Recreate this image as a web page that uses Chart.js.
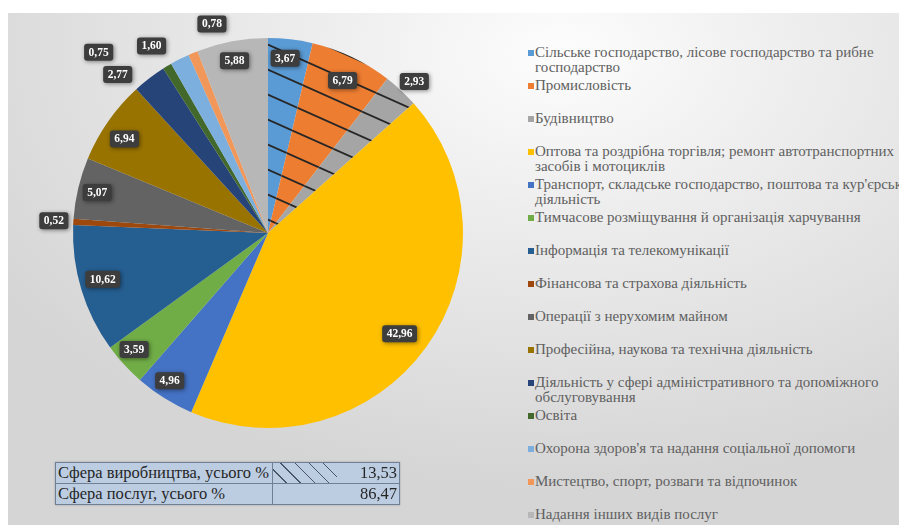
<!DOCTYPE html>
<html><head><meta charset="utf-8">
<script src="https://cdn.jsdelivr.net/npm/chart.js@4.4.0/dist/chart.umd.min.js"></script>
<style>
html,body{margin:0;padding:0;width:899px;height:525px;overflow:hidden;background:#fff;}
#panel{position:absolute;left:8px;top:13px;width:891px;height:512px;
 background:radial-gradient(ellipse 75% 85% at 62% 8%, #fdfdfd 0%, #eeeeee 35%, #d5d5d5 100%);}
#wrap{position:absolute;left:0;top:0;width:520px;height:460px;}
#legend{position:absolute;left:527px;top:0;width:390px;height:525px;font-family:"Liberation Serif","Times New Roman",serif;font-size:15px;color:#606060;}
.li{position:absolute;left:0;width:378px;line-height:15px;padding-left:8px;}
.mk{position:absolute;left:1px;top:5px;width:6px;height:6px;}
#tbl{position:absolute;left:55px;top:462px;border-collapse:collapse;font-family:"Liberation Serif","Times New Roman",serif;font-size:16.5px;color:#262626;box-shadow:0 0 2px rgba(0,0,0,0.25);}
#tbl td{border:1px solid #6f7f95;background:#bccde2;height:20px;padding:0 2px;line-height:20px;white-space:nowrap;}
#tbl td.lab{width:212px;}
#tbl td.val{width:122px;text-align:right;position:relative;}
.hatch{position:absolute;left:0;top:0;width:64px;height:100%;
 background:repeating-linear-gradient(45deg, transparent 0px, transparent 9px, #4a5566 9px, #4a5566 10px);}
.vt{position:relative;}
</style></head>
<body>
<div id="panel"></div>
<div id="wrap"><canvas id="c"></canvas></div>
<div id="legend"></div>
<table id="tbl"></table>
<script>
const categories = [
 "Сільське господарство, лісове господарство та рибне господарство",
 "Промисловість",
 "Будівництво",
 "Оптова та роздрібна торгівля; ремонт автотранспортних засобів і мотоциклів",
 "Транспорт, складське господарство, поштова та кур'єрська діяльність",
 "Тимчасове розміщування й організація харчування",
 "Інформація та телекомунікації",
 "Фінансова та страхова діяльність",
 "Операції з нерухомим майном",
 "Професійна, наукова та технічна діяльність",
 "Діяльність у сфері адміністративного та допоміжного обслуговування",
 "Освіта",
 "Охорона здоров'я та надання соціальної допомоги",
 "Мистецтво, спорт, розваги та відпочинок",
 "Надання інших видів послуг"
];
const shares = [3.67, 6.79, 2.93, 42.96, 4.96, 3.59, 10.62, 0.52, 5.07, 6.94, 2.77, 0.75, 1.60, 0.78, 5.88];
const productionCount = 3;
const tableRows = ["Сфера виробництва, усього %", "Сфера послуг, усього %"];
const tableValues = [13.53, 86.47];

const colors = ['#5B9BD5','#ED7D31','#A5A5A5','#FFC000','#4472C4','#70AD47','#255E91','#9E480E','#636363','#997300','#264478','#43682B','#7CAFDD','#F1975A','#B7B7B7'];
// label placement: [radius factor, angle offset in degrees]
const labelPlacement = [[0.9,-1],[0.87,0.6],[1.08,1],[0.85,1.7],[0.91,1.5],[0.91,1.4],[0.88,1.2],[1.1,0],[0.9,0],[0.88,-1.8],[1.12,-6],[1.27,-12],[1.13,-5],[1.11,7.6],[0.9,-0.4]];

const fmt = v => v.toFixed(2).replace('.', ',');

function hatchPattern(color){
  const w=56,h=25;
  const t=document.createElement('canvas'); t.width=w; t.height=h;
  const g=t.getContext('2d');
  g.fillStyle=color; g.fillRect(0,0,w,h);
  g.strokeStyle='#262626'; g.lineWidth=1.8;
  for(let k=-1;k<=1;k++){
    g.beginPath(); g.moveTo(k*w-w,-h); g.lineTo(k*w+2*w,2*h); g.stroke();
  }
  return document.getElementById('c').getContext('2d').createPattern(t,'repeat');
}
const fills = colors.map((c,i)=> i<productionCount ? hatchPattern(c) : c);

function roundRect(ctx,x,y,w,h,r){
  ctx.beginPath();
  ctx.moveTo(x+r,y); ctx.lineTo(x+w-r,y); ctx.quadraticCurveTo(x+w,y,x+w,y+r);
  ctx.lineTo(x+w,y+h-r); ctx.quadraticCurveTo(x+w,y+h,x+w-r,y+h);
  ctx.lineTo(x+r,y+h); ctx.quadraticCurveTo(x,y+h,x,y+h-r);
  ctx.lineTo(x,y+r); ctx.quadraticCurveTo(x,y,x+r,y); ctx.closePath();
}

const valueBoxes = {
  id:'valueBoxes',
  afterDatasetsDraw(chart){
    const ctx=chart.ctx; const meta=chart.getDatasetMeta(0);
    ctx.save();
    ctx.font='bold 11.5px "Liberation Serif", "Times New Roman", serif';
    ctx.textAlign='center'; ctx.textBaseline='middle';
    meta.data.forEach((arc,i)=>{
      const p=arc.getProps(['x','y','startAngle','endAngle','outerRadius'],true);
      const [f,off]=labelPlacement[i];
      const a=(p.startAngle+p.endAngle)/2+off*Math.PI/180;
      const x=p.x+Math.cos(a)*p.outerRadius*f, y=p.y+Math.sin(a)*p.outerRadius*f;
      const txt=fmt(chart.data.datasets[0].data[i]);
      const w=ctx.measureText(txt).width+9, h=17;
      ctx.shadowColor='rgba(0,0,0,0.45)'; ctx.shadowBlur=4; ctx.shadowOffsetX=1; ctx.shadowOffsetY=1;
      ctx.fillStyle='#3d3d3d';
      roundRect(ctx,x-w/2,y-h/2,w,h,3); ctx.fill();
      ctx.shadowColor='transparent';
      ctx.fillStyle='#ffffff';
      ctx.fillText(txt,x,y+0.5);
    });
    ctx.restore();
  }
};

new Chart(document.getElementById('c'),{
  type:'pie',
  data:{labels:categories,datasets:[{data:shares,backgroundColor:fills,borderWidth:0}]},
  options:{
    responsive:true, maintainAspectRatio:false, animation:false, events:[],
    layout:{padding:{left:73,top:38,right:57,bottom:32}},
    plugins:{legend:{display:false},tooltip:{enabled:false}}
  },
  plugins:[valueBoxes]
});

// legend
const lg=document.getElementById('legend');
categories.forEach((name,i)=>{
  const d=document.createElement('div'); d.className='li';
  d.style.top=(52-7.5+i*33.07)+'px';
  const m=document.createElement('span'); m.className='mk'; m.style.background=colors[i];
  d.appendChild(m); d.appendChild(document.createTextNode(name));
  lg.appendChild(d);
});

// table
const tb=document.getElementById('tbl');
tableRows.forEach((r,i)=>{
  const tr=document.createElement('tr');
  const a=document.createElement('td'); a.className='lab'; a.textContent=r;
  const b=document.createElement('td'); b.className='val';
  if(i===0){const h=document.createElement('div'); h.className='hatch'; b.appendChild(h);}
  const s=document.createElement('span'); s.className='vt'; s.textContent=fmt(tableValues[i]);
  b.appendChild(s);
  tr.appendChild(a); tr.appendChild(b); tb.appendChild(tr);
});
</script>
</body></html>
